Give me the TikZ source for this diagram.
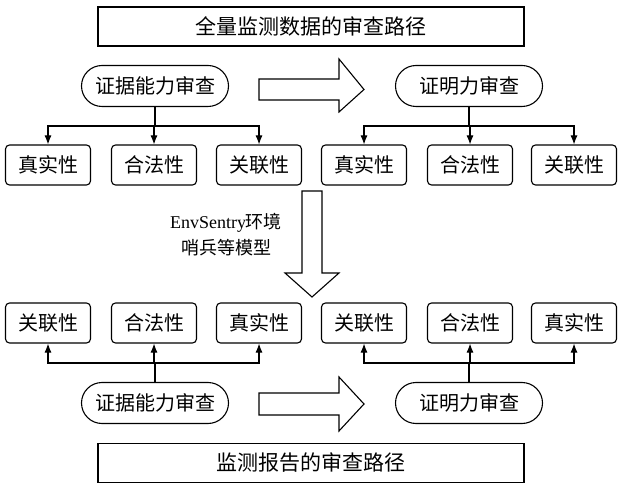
\documentclass[tikz,border=0pt]{standalone}
\usepackage{fontspec}
\newfontfamily\cjk{Noto Sans CJK SC}
\newfontfamily\latinf{Liberation Serif}
\usetikzlibrary{arrows.meta,shapes.misc}
\begin{document}
\begin{tikzpicture}[x=1pt,y=1pt,
  every node/.style={font=\cjk},
  lw/.style={line width=1.1pt},
  titlebox/.style={draw,lw,minimum width=426pt,minimum height=39pt,font=\cjk\fontsize{21}{24}\selectfont,inner sep=0pt},
  oval/.style={draw,lw,rounded rectangle,minimum width=147pt,minimum height=41pt,font=\cjk\fontsize{20}{24}\selectfont,inner sep=0pt},
  propbox/.style={draw,lw,rounded corners=4pt,minimum width=85pt,minimum height=40pt,font=\cjk\fontsize{20}{24}\selectfont,inner sep=0pt},
  conn/.style={lw,-{Latex[length=9pt,width=7pt]}},
  bigarrow/.style={draw,lw,fill=white,line join=miter}
]
\useasboundingbox (0,0) rectangle (620,490);
% titles
\node[titlebox] (t1) at (311,463.5) {全量监测数据的审查路径};
\node[titlebox] (t2) at (311,27) {监测报告的审查路径};
% top ovals
\node[oval] (oa) at (155,404) {证据能力审查};
\node[oval] (ob) at (469,404) {证明力审查};
% top row
\node[propbox] (a1) at (48,325) {真实性};
\node[propbox] (a2) at (154,325) {合法性};
\node[propbox] (a3) at (259,325) {关联性};
\node[propbox] (a4) at (364,325) {真实性};
\node[propbox] (a5) at (470,325) {合法性};
\node[propbox] (a6) at (574,325) {关联性};
% bottom row
\node[propbox] (b1) at (48,167) {关联性};
\node[propbox] (b2) at (154,167) {合法性};
\node[propbox] (b3) at (259,167) {真实性};
\node[propbox] (b4) at (364,167) {关联性};
\node[propbox] (b5) at (470,167) {合法性};
\node[propbox] (b6) at (574,167) {真实性};
% bottom ovals
\node[oval] (pa) at (155,87) {证据能力审查};
\node[oval] (pb) at (469,87) {证明力审查};
% top connectors
\coordinate (ja) at (oa.south |- 0,364);
\coordinate (jb) at (ob.south |- 0,364);
\draw[lw] (oa.south) -- (ja);
\draw[lw] (ob.south) -- (jb);
\draw[conn] (ja) -| (a1.north);
\draw[conn] (ja) -- (ja -| a2.north) -- (a2.north);
\draw[conn] (ja) -| (a3.north);
\draw[conn] (jb) -| (a4.north);
\draw[conn] (jb) -- (jb -| a5.north) -- (a5.north);
\draw[conn] (jb) -| (a6.north);
% bottom connectors
\coordinate (ka) at (pa.north |- 0,127);
\coordinate (kb) at (pb.north |- 0,127);
\draw[lw] (pa.north) -- (ka);
\draw[lw] (pb.north) -- (kb);
\draw[conn] (ka) -| (b1.south);
\draw[conn] (ka) -- (ka -| b2.south) -- (b2.south);
\draw[conn] (ka) -| (b3.south);
\draw[conn] (kb) -| (b4.south);
\draw[conn] (kb) -- (kb -| b5.south) -- (b5.south);
\draw[conn] (kb) -| (b6.south);
% big arrows
\draw[bigarrow] (259,411) -- (339,411) -- (339,431) -- (364,400.5) -- (339,378) -- (339,390) -- (259,390) -- cycle;
\draw[bigarrow] (259,97) -- (339,97) -- (339,113) -- (364,86) -- (339,59) -- (339,75) -- (259,75) -- cycle;
\draw[bigarrow] (302,299) -- (322,299) -- (322,217) -- (339,217) -- (312,193) -- (285,217) -- (302,217) -- cycle;
% label
\node[align=center,font=\fontsize{18}{26}\selectfont,inner sep=0pt] (lab) at (226,255) {{\latinf EnvSentry}{\cjk 环境}\\{\cjk 哨兵等模型}};
\end{tikzpicture}
\end{document}
